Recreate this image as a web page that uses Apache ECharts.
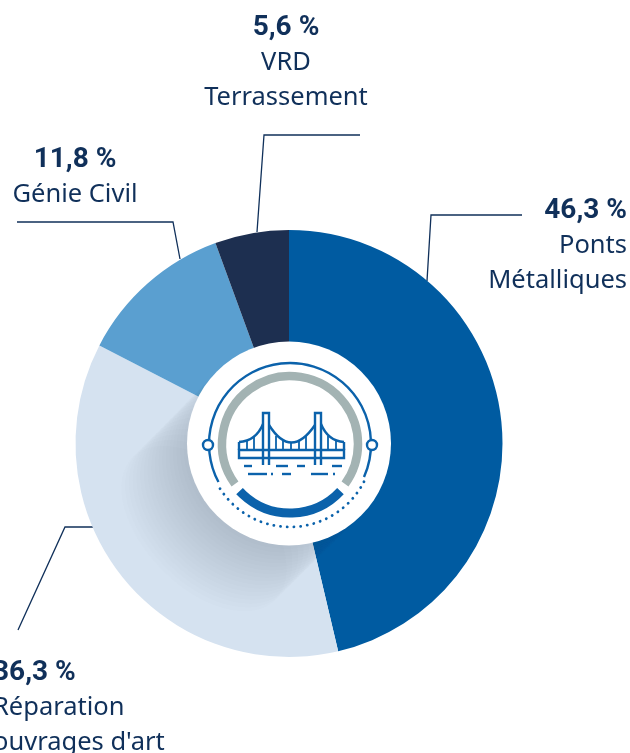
<!DOCTYPE html>
<html>
<head>
<meta charset="utf-8">
<style>
html, body { margin: 0; padding: 0; background: #fff; overflow: hidden; }
#chart { width: 630px; height: 753px; }
</style>
</head>
<body>
<div id="chart"></div>
<script src="https://cdn.jsdelivr.net/npm/echarts@6/dist/echarts.min.js"></script>
<script>
// data
var categories = ['Ponts\nMétalliques', "Réparation\nouvrages d'art", 'Génie Civil', 'VRD\nTerrassement']
var values = [46.3, 36.3, 11.8, 5.6]

var colors = ['#005ba1', '#d5e2f0', '#5a9fd0', '#1d2f50']
var textColor = '#10305a'
var iconBlue = '#0b62ab'
var iconGrey = '#a3b3b3'

// label anchor and leader line of each slice
var labelPos = [
    { x: 627, y: 193, align: 'right', line: [[427, 281], [431, 215], [522, 215]] },
    { x: -7, y: 655, align: 'left', line: [[93, 527], [65, 527], [18, 630]] },
    { x: 75, y: 142, align: 'center', line: [[180, 259], [173, 222], [17, 222]] },
    { x: 286, y: 10, align: 'center', line: [[257, 232], [264, 135], [360, 135]] }
]

var cx = 289, cy = 443.5

function deg (d) {
    return d * Math.PI / 180
}

function line (points, width) {
    return {
        type: 'polyline',
        z: 20,
        shape: { points: points },
        style: { fill: null, stroke: iconBlue, lineWidth: width || 2.4 }
    }
}

function curve (x1, y1, x2, y2, cpx, cpy) {
    return {
        type: 'bezierCurve',
        z: 20,
        shape: { x1: x1, y1: y1, x2: x2, y2: y2, cpx1: cpx, cpy1: cpy },
        style: { fill: null, stroke: iconBlue, lineWidth: 2.4 }
    }
}

// angles run clockwise on screen, 0 at 3 o'clock
function arc (r, start, end, color, width, extra) {
    return {
        type: 'arc',
        z: 20,
        shape: { cx: cx + 1, cy: cy + 0.5, r: r, startAngle: deg(start), endAngle: deg(end), clockwise: true },
        style: Object.assign({ fill: null, stroke: color, lineWidth: width }, extra || {})
    }
}

// long shadow of the white disc, a blend of flattened discs
function shadowLayers () {
    var list = []
    var n = 18
    for (var i = n; i >= 0; i--) {
        var t = i / n
        list.push({
            type: 'circle',
            z: 10,
            x: cx - 85 * t,
            y: cy + 85 * t,
            rotation: deg(-45),
            scaleX: 1 - 0.01 * t,
            scaleY: 1 - 0.42 * t,
            shape: { cx: 0, cy: 0, r: 102 },
            style: { fill: 'rgba(85,85,85,0.012)' }
        })
    }
    return list
}

function bridgeIcon () {
    var list = [
        arc(81, 152, 384, iconBlue, 2.4),
        arc(68, 144, 396, iconGrey, 8.5),
        arc(69, 43, 137, iconBlue, 9),
        arc(83, 27, 148, iconBlue, 2.8, { lineDash: [0.1, 6.6], lineCap: 'round' }),
        { type: 'circle', z: 21, shape: { cx: 208, cy: 445, r: 5 }, style: { fill: '#fff', stroke: iconBlue, lineWidth: 2.4 } },
        { type: 'circle', z: 21, shape: { cx: 372, cy: 445, r: 5 }, style: { fill: '#fff', stroke: iconBlue, lineWidth: 2.4 } },
        // deck
        { type: 'rect', z: 20, shape: { x: 239, y: 450, width: 105, height: 8 }, style: { fill: null, stroke: iconBlue, lineWidth: 2.4 } },
        line([[239, 450], [239, 442]]),
        line([[344, 450], [344, 442]]),
        // towers
        line([[263, 465], [263, 413], [269, 413], [269, 465]]),
        line([[315, 465], [315, 413], [321, 413], [321, 465]]),
        // cables
        curve(239, 442, 263, 424, 256, 441),
        curve(269, 425, 315, 425, 291, 460),
        curve(321, 424, 344, 442, 328, 441)
    ]
    // hangers
    var hangers = [[247, 440], [254, 436], [276, 436], [283, 441], [291, 442], [299, 441], [306, 436], [328, 436], [336, 440]]
    hangers.forEach(function (h) {
        list.push(line([[h[0], h[1]], [h[0], 450]], 1.8))
    })
    // water
    var water = [[244, 252, 466], [276, 288, 466], [297, 305, 466], [332, 342, 466],
        [248, 267, 474], [271, 273, 474], [282, 291, 474], [311, 328, 474], [333, 335, 474]]
    water.forEach(function (w) {
        list.push(line([[w[0], w[2]], [w[1], w[2]]]))
    })
    return list
}

var chart = echarts.init(document.getElementById('chart'))

chart.setOption({
    animation: false,
    backgroundColor: '#fff',
    color: colors,
    series: [
        {
            type: 'pie',
            center: [cx, cy],
            radius: [100, 213.5],
            startAngle: 90,
            clockwise: true,
            avoidLabelOverlap: false,
            silent: true,
            data: categories.map(function (name, i) {
                return { name: name, value: values[i] }
            }),
            label: {
                show: true,
                formatter: function (p) {
                    var pct = values[p.dataIndex].toFixed(1).replace('.', ',') + ' %'
                    return '{pct|' + pct + '}\n' + p.name.split('\n').map(function (s) {
                        return '{name|' + s + '}'
                    }).join('\n')
                },
                rich: {
                    pct: { fontFamily: 'Roboto', fontWeight: 'bold', fontSize: 28, lineHeight: 35, color: textColor },
                    name: { fontFamily: 'Noto Sans', fontSize: 25.5, lineHeight: 35, color: textColor }
                }
            },
            labelLine: {
                show: true,
                lineStyle: { color: '#10305a', width: 1.3 }
            },
            labelLayout: function (p) {
                var pos = labelPos[p.dataIndex]
                return {
                    x: pos.x,
                    y: pos.y,
                    align: pos.align,
                    verticalAlign: 'top',
                    labelLinePoints: pos.line
                }
            }
        }
    ],
    graphic: {
        elements: shadowLayers().concat([
            { type: 'circle', z: 15, shape: { cx: cx, cy: cy, r: 102 }, style: { fill: '#fff' } }
        ]).concat(bridgeIcon())
    }
})
</script>
</body>
</html>
